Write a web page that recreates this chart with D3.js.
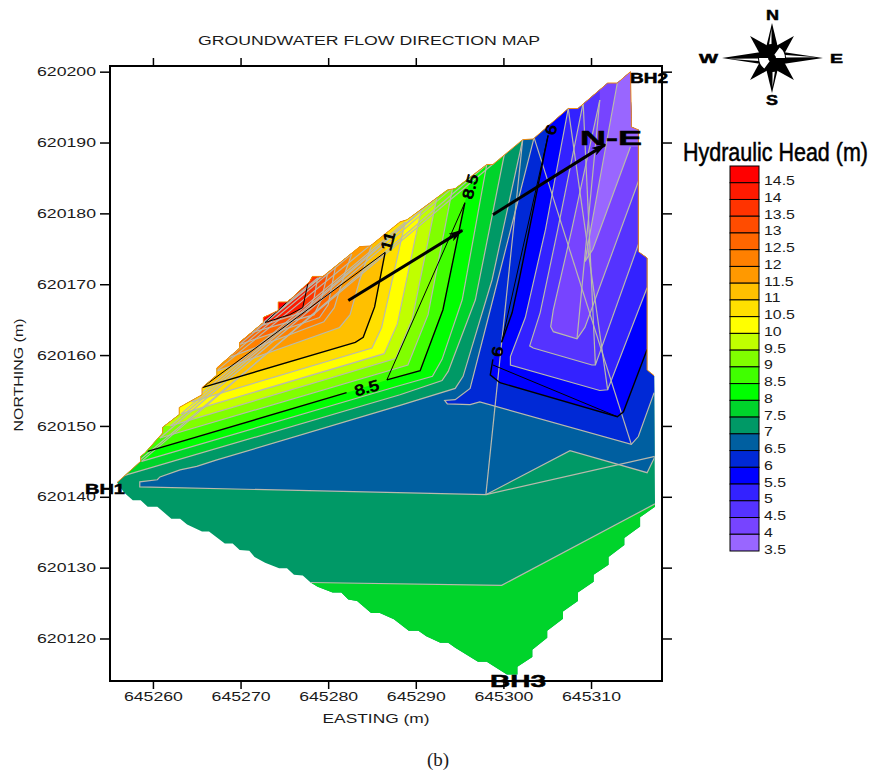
<!DOCTYPE html>
<html>
<head>
<meta charset="utf-8">
<script src="https://cdn.jsdelivr.net/npm/d3@7"></script>
<style>
  html, body { margin: 0; background: #fff; }
  svg { display: block; }
  text { font-family: "Liberation Sans", Arial, sans-serif; fill: #1a1a1a; }
</style>
</head>
<body>
<svg id="chart" width="879" height="773"></svg>
<script>
// all map points are [easting - 645000, northing - 620000]
const E0 = 645000;
const N0 = 620000;

const eastingTicks = [645260, 645270, 645280, 645290, 645300, 645310];
const northingTicks = [620200, 620190, 620180, 620170, 620160, 620150, 620140, 620130, 620120];

const legendLabels = ['14.5', '14', '13.5', '13', '12.5', '12', '11.5', '11', '10.5', '10', '9.5', '9', '8.5', '8', '7.5', '7', '6.5', '6', '5.5', '5', '4.5', '4', '3.5'];
const legendColors = ['#ff0000', '#ff1a00', '#ff3300', '#ff4c00', '#ff6600', '#ff8000', '#ff9900', '#ffc000', '#ffe000', '#ffff00', '#c0ff00', '#80ff00', '#40ff00', '#00ff00', '#00d42b', '#009966', '#005fa0', '#0029d6', '#0000ff', '#3322ff', '#5533ff', '#7744ff', '#9966ff'];

// site outline, stepped like the grid it was gridded on
const edgeNorth = [[255.9, 142.0], [258.6, 145.0], [258.6, 145.7], [259.1, 146.2], [261.1, 149.0], [261.1, 149.8], [263.0, 151.6], [263.0, 152.6], [265.6, 154.4], [265.6, 155.4], [267.3, 157.2], [267.3, 158.2], [269.9, 161.0], [269.9, 161.8], [272.6, 164.6], [272.6, 165.3], [274.3, 166.3], [274.3, 167.5], [275.3, 167.5], [275.9, 168.1], [277.9, 170.4], [278.2, 171.1], [279.4, 171.1], [283.6, 175.3], [284.8, 175.4], [288.2, 178.8], [289.0, 179.1], [293.6, 183.3], [294.5, 183.5], [298.1, 186.9], [298.8, 186.9], [302.2, 190.4], [303.4, 190.5], [307.4, 194.8], [308.5, 194.8], [311.9, 198.4], [313.0, 198.4], [314.5, 200.0]];
const edgeEast = [[314.6, 193.5], [314.6, 192.2], [315.4, 191.8], [315.4, 174.6], [316.4, 173.7], [316.4, 157.9], [317.2, 157.1], [317.3, 139.2]];
const edgeSouth = [[317.3, 138.6], [315.6, 137.1], [315.6, 135.8], [313.8, 134.2], [313.8, 133.2], [312.0, 131.5], [312.0, 130.4], [310.3, 129.0], [310.3, 128.0], [308.5, 126.5], [308.5, 125.3], [306.8, 123.8], [306.8, 122.8], [305.0, 121.1], [305.0, 120.1], [303.3, 118.4], [303.3, 117.4], [301.6, 116.0], [301.6, 114.9], [300.4, 114.9], [298.1, 116.7], [297.1, 116.7], [294.5, 118.7], [293.7, 119.4], [292.8, 119.4], [291.2, 120.3], [290.3, 121.1], [289.2, 121.1], [287.5, 122.7], [285.9, 123.6], [284.9, 123.6], [283.3, 125.3], [282.3, 125.5], [281.5, 126.5], [280.5, 126.5], [278.8, 127.3], [278.0, 127.9], [277.1, 128.9], [276.1, 129.0], [275.3, 129.9], [274.4, 129.9], [272.8, 130.7], [271.6, 131.5], [271.0, 132.4], [269.9, 132.5], [269.1, 133.4], [268.2, 133.4], [266.4, 135.1], [265.6, 135.1], [263.9, 136.1], [263.1, 136.9], [262.1, 136.9], [260.5, 138.6], [259.4, 138.6], [258.6, 139.5], [257.7, 139.5], [256.7, 140.6]];

// contours rising towards the north-west
const contour7 = [[256.2, 142.8], [288.2, 154.4], [293.0, 156.4], [293.7, 157.7], [296.8, 167.8], [300.1, 188.3]];
const contour75 = [[258.7, 145.0], [288.2, 155.7], [291.9, 157.0], [293.0, 159.4], [295.3, 167.8], [298.1, 186.9]];
const contour85 = [[259.4, 146.4], [282.1, 154.7], [286.7, 156.5], [290.5, 157.8], [293.1, 166.4], [295.6, 181.5], [296.2, 184.8]];
const contour9 = [[260.8, 148.3], [289.1, 158.6], [291.4, 165.7], [294.2, 183.6]];
const contour95 = [[262.0, 150.0], [287.7, 159.5], [289.6, 165.1], [292.4, 182.2]];
const contour10 = [[263.2, 151.7], [286.4, 160.2], [287.9, 164.4], [290.6, 180.4]];
const contour105 = [[264.4, 153.4], [285.0, 161.0], [286.1, 163.9], [288.8, 178.8]];
const contour11 = [[265.6, 155.4], [283.1, 161.8], [284.0, 162.5], [285.3, 166.8], [286.5, 174.5], [286.8, 177.0]];
const contour115 = [[267.2, 157.7], [281.3, 163.9], [282.5, 165.7], [283.6, 170.6], [285.0, 175.7]];
const contour12 = [[268.6, 159.6], [279.5, 164.7], [280.7, 166.7], [281.8, 171.2], [282.7, 174.3]];
const contour125 = [[269.9, 161.5], [279.0, 165.3], [280.0, 167.1], [280.9, 172.9]];
const contour13 = [[271.3, 163.2], [278.4, 165.7], [279.2, 167.8], [280.0, 171.8]];
const contour135 = [[272.0, 164.0], [277.7, 166.3], [278.4, 168.1], [278.8, 170.9]];
const contour14 = [[272.8, 164.6], [275.6, 165.7], [277.1, 166.7], [277.7, 170.2]];
const contour145 = [[272.6, 164.3], [273.9, 165.6], [275.1, 167.0], [276.0, 168.2]];

// contours falling towards the north-east
const contour65 = [[317.3, 145.7], [316.4, 143.4], [307.6, 146.5], [298.0, 140.3], [258.5, 141.4], [258.5, 142.1], [260.5, 142.4], [260.8, 142.8], [263.1, 143.8], [265.0, 144.3], [267.3, 145.2], [288.2, 152.9], [294.5, 155.3], [295.4, 157.0], [298.7, 170.6], [302.2, 190.4]];
const contour6 = [[317.2, 154.7], [315.4, 148.5], [314.6, 147.4], [297.3, 153.4], [296.2, 153.0], [293.6, 153.1], [293.3, 153.6], [294.5, 153.7], [296.2, 155.3], [298.5, 166.4], [303.5, 190.7]];
const contour55 = [[316.4, 160.8], [313.7, 152.0], [313.0, 151.3], [299.6, 156.1], [298.5, 157.2], [298.8, 159.4], [299.8, 161.8], [301.0, 166.0], [301.8, 170.6], [305.1, 191.0]];
const contour5 = [[316.4, 169.5], [311.9, 155.1], [311.0, 155.0], [300.8, 158.6], [300.8, 159.8], [302.5, 165.3], [304.8, 177.7], [307.4, 194.8]];
const contour45 = [[315.4, 175.6], [310.5, 158.6], [310.1, 158.6], [303.4, 161.0], [303.0, 161.3], [304.2, 166.0], [306.2, 177.7], [309.1, 195.6]];
const contour4 = [[315.4, 184.5], [309.3, 163.9], [308.4, 162.3], [305.7, 163.3], [305.4, 164.0], [305.7, 166.4], [307.8, 177.7], [311.0, 196.0]];
const contour35 = [[314.5, 189.4], [310.2, 174.9], [309.3, 173.2], [313.0, 198.4]];

// the green wedge towards BH3
const contourSouth = [[278.0, 127.9], [299.8, 127.5], [317.3, 139.0]];

// straight closing lines the contouring package left behind
const eastChords = [[[298.0, 140.3], [302.2, 190.4]], [[298.0, 140.3], [317.3, 145.7]], [[314.6, 147.4], [303.5, 190.7]], [[311.9, 155.1], [307.4, 194.8]], [[310.5, 158.6], [309.1, 195.6]], [[308.4, 162.3], [311.0, 196.0]]];

const flowArrows = [[[282.3, 167.7], [295.3, 177.6]], [[298.8, 179.8], [311.6, 189.7]]];
const contourLabels = [['8.5', 284.4, 155.4, -16], ['11', 286.8, 176.1, -75], ['8.5', 296.2, 183.8, -75], ['6', 305.4, 191.8, -75], ['6', 299.3, 160.5, -80]];

const compassLong = [[0, 35], [90, 51], [180, 35], [270, 50]];
const compassDiagonal = [[45, 31], [135, 31], [225, 31], [315, 31]];

const svg = d3.select('#chart');

const x = d3.scaleLinear().domain([645255.1, 645318.1]).range([110, 662]);
const y = d3.scaleLinear().domain([620200.8, 620114]).range([66, 681]);

const color = d3.scaleOrdinal(legendLabels, legendColors);

const line = d3.line().x(d => x(E0 + d[0])).y(d => y(N0 + d[1]));

const closeNW = l => [...l, [l[l.length - 1][0], 205], [250, 205], [250, l[0][1]]];
const closeNE = l => [...l, [l[l.length - 1][0], 205], [320, 205], [320, l[0][1]]];

// squeeze or stretch text sideways, the original labels are not at natural width
const stretch = (sel, k) => sel.each(function () {
  d3.select(this).attr('textLength', this.getComputedTextLength() * k).attr('lengthAdjust', 'spacingAndGlyphs');
});

svg.append('clipPath').attr('id', 'site')
  .append('path').attr('d', line([...edgeNorth, ...edgeEast, ...edgeSouth]) + 'Z');

const map = svg.append('g').attr('clip-path', 'url(#site)');

map.append('rect').attr('x', 100).attr('y', 60).attr('width', 570).attr('height', 630).attr('fill', color('7'));

map.append('path')
  .attr('d', line([...contourSouth, [320, 139], [320, 110], [278, 110]]) + 'Z')
  .attr('fill', color('7.5'));

const rising = [['7.5', contour7], ['8', contour75], ['8.5', contour85], ['9', contour9], ['9.5', contour95], ['10', contour10], ['10.5', contour105], ['11', contour11], ['11.5', contour115], ['12', contour12], ['12.5', contour125], ['13', contour13], ['13.5', contour135], ['14', contour14], ['14.5', contour145]];
const falling = [['6.5', contour65], ['6', contour6], ['5.5', contour55], ['5', contour5], ['4.5', contour45], ['4', contour4], ['3.5', contour35]];

map.selectAll('path.rising').data(rising).join('path')
  .attr('class', 'rising')
  .attr('d', d => line(closeNW(d[1])) + 'Z')
  .attr('fill', d => color(d[0]));

map.selectAll('path.falling').data(falling).join('path')
  .attr('class', 'falling')
  .attr('d', d => line(closeNE(d[1])) + 'Z')
  .attr('fill', d => color(d[0]));

// grey contours, each with its closing chord
const greyRising = [contour7, contour75, contour9, contour95, contour10, contour105, contour115, contour12, contour125, contour13, contour135];
const greyFalling = [contour65, contour6, contour5, contour45, contour4, contour35];
const greyLines = [
  contourSouth,
  ...greyRising,
  ...greyFalling,
  ...greyRising.map(l => [l[0], l[l.length - 1]]),
  ...eastChords,
];

map.append('g').selectAll('path').data(greyLines).join('path')
  .attr('d', line)
  .attr('fill', 'none')
  .attr('stroke', '#b9b9ac')
  .attr('stroke-width', 1.2);

const blackThick = [contour85.slice(0, 2), contour85.slice(2, 6), contour11.slice(0, 5), contour55.slice(0, 6), contour55.slice(6)];
const blackThin = [
  [contour85[2], contour85[5]],
  [contour11[0], contour11[4]],
  contour14,
  [contour14[0], contour14[3]],
  [contour55[2], [298.8, 158.6]],
  [contour55[6], contour55[9]],
];

map.append('g').selectAll('path').data(blackThick).join('path')
  .attr('d', line).attr('fill', 'none').attr('stroke', '#000').attr('stroke-width', 1.4);
map.append('g').selectAll('path').data(blackThin).join('path')
  .attr('d', line).attr('fill', 'none').attr('stroke', '#000').attr('stroke-width', 1);

svg.append('path')
  .attr('d', line([...edgeNorth, ...edgeEast.slice(0, 7)]))
  .attr('fill', 'none')
  .attr('stroke', '#f08a10')
  .attr('stroke-width', 1);

// axes
const styleAxis = g => {
  g.select('.domain').remove();
  g.selectAll('line').attr('stroke', '#000').attr('stroke-width', 1.5);
};
const fmt = d3.format('d');

svg.append('g').attr('transform', 'translate(0,681)')
  .call(d3.axisBottom(x).tickValues(eastingTicks).tickFormat(fmt).tickSize(8).tickPadding(3))
  .call(styleAxis)
  .selectAll('text').attr('font-size', 13).call(stretch, 1.36);
svg.append('g').attr('transform', 'translate(0,66)')
  .call(d3.axisTop(x).tickValues(eastingTicks).tickFormat('').tickSize(8))
  .call(styleAxis);
svg.append('g').attr('transform', 'translate(110,0)')
  .call(d3.axisLeft(y).tickValues(northingTicks).tickFormat(fmt).tickSize(10).tickPadding(4))
  .call(styleAxis)
  .selectAll('text').attr('font-size', 13).call(stretch, 1.36);
svg.append('g').attr('transform', 'translate(662,0)')
  .call(d3.axisRight(y).tickValues(northingTicks).tickFormat('').tickSize(10))
  .call(styleAxis);

svg.append('rect')
  .attr('x', 110).attr('y', 66).attr('width', 552).attr('height', 615)
  .attr('fill', 'none').attr('stroke', '#000').attr('stroke-width', 2);

svg.append('text').attr('x', 369).attr('y', 45).attr('text-anchor', 'middle')
  .attr('font-size', 12.5).attr('textLength', 342).attr('lengthAdjust', 'spacingAndGlyphs')
  .text('GROUNDWATER FLOW DIRECTION MAP');
svg.append('text').attr('x', 376).attr('y', 723).attr('text-anchor', 'middle')
  .attr('font-size', 13).attr('textLength', 107).attr('lengthAdjust', 'spacingAndGlyphs')
  .text('EASTING (m)');
svg.append('text').attr('transform', 'translate(23,375) rotate(-90)').attr('text-anchor', 'middle')
  .attr('font-size', 13).attr('textLength', 113).attr('lengthAdjust', 'spacingAndGlyphs')
  .text('NORTHING (m)');
svg.append('text').attr('x', 438).attr('y', 766).attr('text-anchor', 'middle')
  .style('font-family', '"Liberation Serif", serif').attr('font-size', 19)
  .text('(b)');

// contour labels
svg.append('g').selectAll('text').data(contourLabels).join('text')
  .attr('transform', d => `translate(${x(E0 + d[1])},${y(N0 + d[2])}) rotate(${d[3]})`)
  .attr('text-anchor', 'middle').attr('dy', '.36em')
  .attr('font-size', 15).attr('stroke', '#000').attr('stroke-width', 0.8)
  .style('fill', '#000')
  .text(d => d[0])
  .call(stretch, 1.2);

// flow arrows
svg.append('defs').append('marker').attr('id', 'head')
  .attr('viewBox', '0 0 10 6').attr('refX', 9).attr('refY', 3)
  .attr('markerWidth', 6).attr('markerHeight', 3).attr('orient', 'auto')
  .append('path').attr('d', 'M0,0L10,3L0,6L2.5,3Z').attr('fill', '#000');

svg.append('g').selectAll('path').data(flowArrows).join('path')
  .attr('d', line).attr('fill', 'none').attr('stroke', '#000').attr('stroke-width', 3)
  .attr('marker-end', 'url(#head)');

// bold annotations
const boldText = (label, px, py, size, width) => svg.append('text')
  .attr('x', px).attr('y', py).attr('font-size', size).attr('font-weight', 'bold')
  .attr('stroke', '#000').attr('stroke-width', 0.5)
  .attr('textLength', width).attr('lengthAdjust', 'spacingAndGlyphs')
  .style('fill', '#000').text(label);

boldText('N-E', 580, 145, 21, 62);
boldText('BH1', 85, 494, 14, 40);
boldText('BH2', 630, 83, 14, 38);
boldText('BH3', 490, 687, 17, 56);

// compass
const compass = svg.append('g').attr('transform', 'translate(772,58)');
const polar = (deg, r) => [r * Math.sin(deg * Math.PI / 180), -r * Math.cos(deg * Math.PI / 180)];
const polyline = d3.line();

compass.selectAll('path.diag').data(compassDiagonal).join('path')
  .attr('class', 'diag')
  .attr('d', d => polyline([[0, 0], polar(d[0] - 30, 12), polar(d[0], d[1]), polar(d[0] + 30, 12)]) + 'Z')
  .attr('fill', '#000');
compass.selectAll('path.long').data(compassLong).join('path')
  .attr('class', 'long')
  .attr('d', d => polyline([polar(d[0] - 35, 11), polar(d[0], d[1]), polar(d[0] + 35, 11), [0, 0]]) + 'Z')
  .attr('fill', '#000');
compass.selectAll('path.slit').data(compassLong).join('path')
  .attr('class', 'slit')
  .attr('d', d => polyline([polar(d[0] - 12, 14), polar(d[0] - 1, d[1] - 6), polar(d[0] - 2, 14)]) + 'Z')
  .attr('fill', '#fff');
compass.append('circle').attr('r', 13).attr('fill', '#000');
const wedge = d3.arc().innerRadius(4).outerRadius(13);
compass.selectAll('path.wedge').data([0.2 * Math.PI, 1.2 * Math.PI]).join('path')
  .attr('class', 'wedge')
  .attr('d', d => wedge({ startAngle: d, endAngle: d + 0.3 * Math.PI }))
  .attr('fill', '#fff');

boldText('N', 766, 20, 15, 13);
boldText('S', 766, 105, 15, 12);
boldText('W', 699, 63, 13, 19);
boldText('E', 830, 63, 13, 13);

// legend
const legendY = d3.scaleBand().domain(legendLabels).range([166, 551]);
const legend = svg.append('g');

legend.selectAll('rect').data(legendLabels).join('rect')
  .attr('x', 730).attr('y', d => legendY(d))
  .attr('width', 29).attr('height', legendY.bandwidth())
  .attr('fill', d => color(d))
  .attr('stroke', '#000').attr('stroke-width', 1);

legend.selectAll('text').data(legendLabels).join('text')
  .attr('x', 764).attr('y', d => legendY(d) + legendY.bandwidth() + 2.5)
  .attr('font-size', 13)
  .text(d => d)
  .call(stretch, 1.22);

// title is condensed with a transform so its real extent stays inside the page
const legendTitle = svg.append('text')
  .attr('font-size', 25).attr('stroke', '#000').attr('stroke-width', 0.5)
  .style('fill', '#000')
  .text('Hydraulic Head (m)');
legendTitle.attr('transform', `translate(683,161) scale(${185 / legendTitle.node().getComputedTextLength()},1)`);
</script>
</body>
</html>
